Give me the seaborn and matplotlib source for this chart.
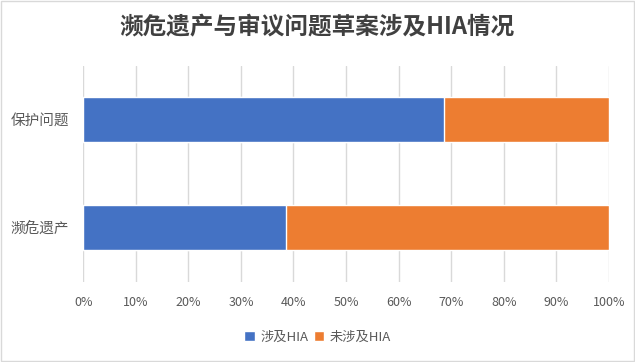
import seaborn as sns
import matplotlib.pyplot as plt
import pandas as pd
from matplotlib.patches import Rectangle
from matplotlib.ticker import PercentFormatter

categories = ['保护问题', '濒危遗产']
involved = [68.6, 38.5]
not_involved = [31.4, 61.5]
series_names = ['涉及HIA', '未涉及HIA']
blue = '#4472C4'
orange = '#ED7D31'

sns.set_theme(style='white')
plt.rcParams['font.family'] = ['Noto Sans CJK SC', 'DejaVu Sans']

df = pd.DataFrame({'cat': categories, 'a': involved, 'b': not_involved})
df['total'] = df['a'] + df['b']

fig = plt.figure(figsize=(6.35, 3.62), dpi=100)
ax = fig.add_axes([0.131, 0.222, 0.828, 0.597])

sns.barplot(data=df, y='cat', x='total', color=orange, width=0.42,
            orient='y', ax=ax, label=series_names[1], saturation=1)
sns.barplot(data=df, y='cat', x='a', color=blue, width=0.42,
            orient='y', ax=ax, label=series_names[0], saturation=1)

ax.set_xlim(0, 100)
ax.set_xticks(range(0, 101, 10))
ax.xaxis.set_major_formatter(PercentFormatter(decimals=0))
ax.grid(axis='x', color='#D9D9D9', linewidth=1)
ax.set_axisbelow(True)
for s in ax.spines.values():
    s.set_visible(False)
ax.set_xlabel('')
ax.set_ylabel('')
ax.tick_params(axis='y', length=0, labelsize=10.5, colors='#595959', pad=10)
ax.tick_params(axis='x', length=0, labelsize=9, colors='#595959', pad=10)

handles, labels = ax.get_legend_handles_labels()
order = [labels.index(n) for n in series_names]
fig.legend([handles[i] for i in order], [labels[i] for i in order],
           loc='center', bbox_to_anchor=(0.5, 0.068), ncol=2, frameon=False,
           fontsize=9.5, handlelength=0.8, handleheight=0.8, handletextpad=0.4,
           columnspacing=0.4, labelcolor='#595959')
if ax.get_legend():
    ax.get_legend().remove()

fig.text(0.5, 0.925, '濒危遗产与审议问题草案涉及HIA情况', ha='center', va='center',
         fontsize=17, fontweight='bold', color='#404040')

fig.patches.append(Rectangle((0.002, 0.003), 0.996, 0.994, transform=fig.transFigure,
                             fill=False, edgecolor='#D9D9D9', linewidth=1))

fig.savefig('out.png', dpi=100)
